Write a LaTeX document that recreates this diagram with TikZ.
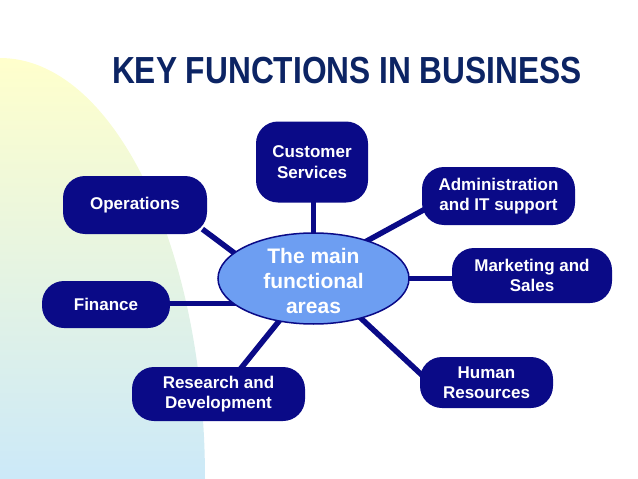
\documentclass[tikz,border=0pt]{standalone}
\usepackage{fontspec}
\setmainfont{Liberation Sans}
\newfontfamily\titlefont[FakeStretch=0.84]{Liberation Sans}
\usetikzlibrary{shapes.geometric}
\definecolor{navy}{HTML}{0A0A87}
\definecolor{titleblue}{HTML}{0C2464}
\definecolor{hubblue}{HTML}{6D9EF2}
\definecolor{paleyellow}{HTML}{FFFFCC}
\definecolor{paleblue}{HTML}{CCE9F8}
\pgfdeclarelayer{bg}
\pgfdeclarelayer{edges}
\pgfsetlayers{bg,edges,main}

\begin{document}
\begin{tikzpicture}[x=1pt, y=1pt,
  func/.style={fill=navy, text=white, rounded corners=22pt, align=center, inner sep=0pt, font=\fontsize{17}{20.5}\selectfont\bfseries},
  hub/.style={ellipse, draw=navy, line width=1.5pt, fill=hubblue, minimum width=191pt, minimum height=91pt, inner sep=0pt},
  link/.style={draw=navy, line width=5.5pt, shorten <=-4pt, shorten >=-6pt}
]
  \useasboundingbox (0,0) rectangle (638,-479);

  % Backdrop
  \begin{pgfonlayer}{bg}
    \shade[top color=paleyellow, bottom color=paleblue]
      (0,-479) -- (0,-58) arc[start angle=90, end angle=0, x radius=205, y radius=421] -- cycle;
  \end{pgfonlayer}

  % Title
  \node[text=titleblue, font=\titlefont\fontsize{37.7}{40}\selectfont\bfseries, anchor=base] (title) at (347,-83)
    {KEY FUNCTIONS IN BUSINESS};

  % Hub
  \node[hub] (main) at (313.5,-278.5) {};
  \node[text=white, align=center, font=\fontsize{21}{25}\selectfont\bfseries] (maintext) at (313.5,-280.5)
    {The main\\functional\\areas};

  % Functions
  \node[func, minimum width=112pt, minimum height=81pt] (cs) at (312,-162) {Customer\\Services};
  \node[func, minimum width=144pt, minimum height=58pt] (ops) at (135,-205) {Operations};
  \node[func, minimum width=153pt, minimum height=58pt] (adm) at (498.5,-196) {Administration\\and IT support};
  \node[func, minimum width=128pt, minimum height=47pt] (fin) at (106,-304.5) {Finance};
  \node[func, minimum width=160pt, minimum height=55pt] (mkt) at (532,-275.5) {Marketing and\\Sales};
  \node[func, minimum width=173pt, minimum height=54pt] (rd) at (218.5,-394) {Research and\\Development};
  \node[func, minimum width=133pt, minimum height=51pt] (hr) at (486.5,-382.5) {Human\\Resources};

  % Spokes
  \begin{pgfonlayer}{edges}
    \draw[link] (main.north) -- (main.north |- cs.south);
    \draw[link] (main.162) -- (ops.-21);
    \draw[link] (main.35) -- (adm.191);
    \draw[link] (main.197) -- (main.197 -| fin.east);
    \draw[link] (main.east) -- (main.east -| mkt.west);
    \draw[link] (main.231) -- (rd.49);
    \draw[link] (main.-40) -- (hr.172);
  \end{pgfonlayer}

\end{tikzpicture}
\end{document}
